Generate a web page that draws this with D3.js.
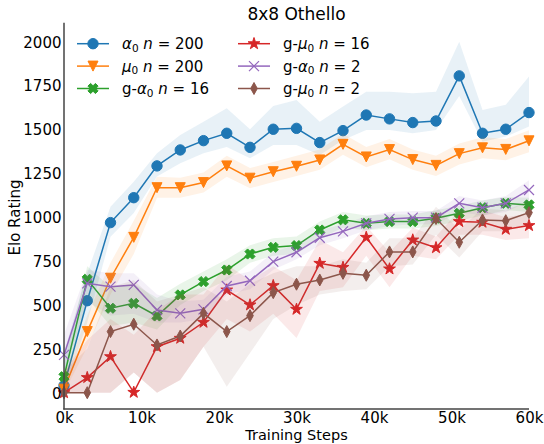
<!DOCTYPE html>
<html><head><meta charset="utf-8">
<script src="https://cdn.jsdelivr.net/npm/d3@7"></script>
<style>body{margin:0;background:#fff} svg{display:block;font-family:"DejaVu Sans",sans-serif}</style>
</head><body><svg id="c" width="544" height="444"></svg>
<script>
const title = "8x8 Othello";
const xLabel = "Training Steps";
const yLabel = "Elo Rating";
const steps = [0,3000,6000,9000,12000,15000,18000,21000,24000,27000,30000,33000,36000,39000,42000,45000,48000,51000,54000,57000,60000];
const xTicks = [0,10000,20000,30000,40000,50000,60000];
const yTicks = [0,250,500,750,1000,1250,1500,1750,2000];

const alpha0Mean = [40,524,969,1111,1292,1383,1436,1478,1398,1501,1506,1425,1493,1582,1560,1539,1548,1805,1478,1501,1596];
const alpha0Lo   = [0,400,889,1024,1231,1307,1364,1400,1336,1411,1411,1354,1440,1497,1497,1478,1497,1690,1430,1459,1516];
const alpha0Hi   = [230,680,1060,1202,1364,1468,1544,1620,1501,1634,1668,1544,1630,1715,1715,1706,1715,2000,1611,1640,1801];

const mu0Mean = [20,348,652,885,1168,1168,1197,1292,1222,1259,1290,1326,1415,1343,1385,1328,1295,1362,1395,1386,1435];
const mu0Lo   = [0,260,560,790,1110,1110,1140,1230,1165,1200,1235,1270,1355,1285,1330,1270,1235,1300,1335,1325,1370];
const mu0Hi   = [90,440,740,980,1230,1225,1255,1350,1280,1315,1350,1385,1475,1400,1445,1385,1350,1420,1455,1445,1495];

const gAlpha16Mean = [91,646,481,509,437,557,633,699,790,828,838,927,985,965,975,975,994,1022,1054,1079,1070];
const gAlpha16Lo   = [20,540,380,400,360,500,580,640,740,780,790,880,940,925,935,935,950,980,1010,1040,1030];
const gAlpha16Hi   = [170,720,600,620,540,620,690,760,840,880,890,975,1030,1010,1015,1015,1040,1065,1095,1115,1110];

const gMu16Mean = [0,86,205,2,262,310,401,585,500,610,475,737,714,885,705,870,826,975,971,931,952];
const gMu16Lo   = [0,0,0,115,0,72,262,420,348,450,311,580,600,780,600,780,760,900,900,870,880];
const gMu16Hi   = [120,300,420,330,470,560,560,730,640,720,640,870,800,950,800,940,890,1040,1040,1000,1020];

const gAlpha2Mean = [215,623,604,614,471,452,475,608,638,747,800,883,919,965,990,997,997,1079,1054,1079,1155];
const gAlpha2Lo   = [120,520,440,450,400,400,420,560,590,700,760,840,880,925,950,960,960,1030,1010,1030,1090];
const gAlpha2Hi   = [330,700,680,680,560,520,530,660,690,800,845,925,960,1005,1030,1035,1035,1120,1095,1120,1210];

const gMu2Mean = [0,0,348,390,272,323,452,348,439,570,618,642,680,669,802,802,992,857,984,980,1026];
const gMu2Lo   = [0,0,0,115,0,72,262,34,226,420,500,560,580,590,720,730,900,770,920,920,960];
const gMu2Hi   = [120,250,600,640,520,560,600,520,620,680,720,720,760,740,880,880,1060,930,1050,1040,1090];

// legend label parts: [prefix, greek, n]
const seriesNames = [["","α","200"],["","μ","200"],["g-","α","16"],["g-","μ","16"],["g-","α","2"],["g-","μ","2"]];

const series = [
  {mean:alpha0Mean, lo:alpha0Lo, hi:alpha0Hi, color:"#1f77b4", marker:"circle"},
  {mean:mu0Mean, lo:mu0Lo, hi:mu0Hi, color:"#ff7f0e", marker:"tridown"},
  {mean:gAlpha16Mean, lo:gAlpha16Lo, hi:gAlpha16Hi, color:"#2ca02c", marker:"filledX"},
  {mean:gMu16Mean, lo:gMu16Lo, hi:gMu16Hi, color:"#d62728", marker:"star"},
  {mean:gAlpha2Mean, lo:gAlpha2Lo, hi:gAlpha2Hi, color:"#9467bd", marker:"x"},
  {mean:gMu2Mean, lo:gMu2Lo, hi:gMu2Hi, color:"#8c564b", marker:"diamond"}
];
series.forEach((s,i)=>s.name=seriesNames[i]);

const svg = d3.select("#c");
const x = d3.scaleLinear().domain([0,60000]).range([64,529]);
const y = d3.scaleLinear().domain([-93,2108]).range([409,22.7]);

function markerPath(type){
  if(type==="tridown") return "M0,5L-5,-5L5,-5Z";
  if(type==="x") return "M-5,-5L5,5M-5,5L5,-5";
  if(type==="diamond") return "M0,-6L3.3,0L0,6L-3.3,0Z";
  if(type==="star"){
    const pts=[]; const R=6.2, r=R*0.382;
    for(let k=0;k<10;k++){const a=-Math.PI/2+k*Math.PI/5; const rr=k%2?r:R; pts.push([rr*Math.cos(a), rr*Math.sin(a)]);}
    return "M"+pts.map(p=>p[0].toFixed(2)+","+p[1].toFixed(2)).join("L")+"Z";
  }
  if(type==="filledX"){
    const L=5.3, W=1.9;
    const plus=[[W,-L],[W,-W],[L,-W],[L,W],[W,W],[W,L],[-W,L],[-W,W],[-L,W],[-L,-W],[-W,-W],[-W,-L]];
    const c=Math.SQRT1_2;
    const rot=plus.map(([a,b])=>[(a-b)*c,(a+b)*c]);
    return "M"+rot.map(p=>p[0].toFixed(2)+","+p[1].toFixed(2)).join("L")+"Z";
  }
  return null;
}
function drawMarker(g, type, color, cx, cy){
  if(type==="circle"){
    g.append("circle").attr("cx",cx).attr("cy",cy).attr("r",5.2).attr("fill",color).attr("stroke",color).attr("stroke-width",1);
  } else if(type==="x"){
    g.append("path").attr("d",markerPath(type)).attr("transform",`translate(${cx},${cy})`).attr("fill","none").attr("stroke",color).attr("stroke-width",1.2);
  } else {
    g.append("path").attr("d",markerPath(type)).attr("transform",`translate(${cx},${cy})`).attr("fill",color).attr("stroke",color).attr("stroke-width",1);
  }
}

// bands and lines
const area = d3.area().x((d,i)=>x(steps[i])).y0(d=>y(d[0])).y1(d=>y(d[1]));
const line = d3.line().x((d,i)=>x(steps[i])).y(d=>y(d));
const plot = svg.append("g");
series.forEach(s=>{
  const g = plot.append("g");
  g.append("path").datum(s.lo.map((v,i)=>[v,s.hi[i]])).attr("d",area).attr("fill",s.color).attr("fill-opacity",0.1).attr("stroke","none");
  g.append("path").datum(s.mean).attr("d",line).attr("fill","none").attr("stroke",s.color).attr("stroke-width",1.5);
  s.mean.forEach((v,i)=>drawMarker(g,s.marker,s.color,x(steps[i]),y(v)));
});

// axes (spines only, no tick marks)
const axG = svg.append("g");
axG.append("line").attr("x1",64).attr("x2",64).attr("y1",22.7).attr("y2",409.5).attr("stroke","#444").attr("stroke-width",1.5);
axG.append("line").attr("x1",63.3).attr("x2",529).attr("y1",409).attr("y2",409).attr("stroke","#444").attr("stroke-width",1.5);
const xAxis = d3.axisBottom(x).tickValues(xTicks).tickSize(0).tickPadding(0).tickFormat(d=>(d/1000)+"k");
const xg = svg.append("g").attr("transform","translate(0,409)").call(xAxis);
xg.select(".domain").remove();
xg.selectAll("text").attr("font-size",15).attr("font-family","DejaVu Sans").attr("fill","#000").attr("dy",null).attr("y",14);
const yAxis = d3.axisLeft(y).tickValues(yTicks).tickSize(0).tickPadding(2.5).tickFormat(d3.format("d"));
const yg = svg.append("g").attr("transform","translate(64,0)").call(yAxis);
yg.select(".domain").remove();
yg.selectAll("text").attr("font-size",15).attr("font-family","DejaVu Sans").attr("fill","#000").attr("dy","0.36em");

// labels
svg.append("text").attr("x",296.5).attr("y",20).attr("text-anchor","middle").attr("font-size",17).text(title);
svg.append("text").attr("x",296.5).attr("y",440).attr("text-anchor","middle").attr("font-size",14.5).text(xLabel);
svg.append("text").attr("transform","translate(19.5,217.5) rotate(-90)").attr("text-anchor","middle").attr("font-size",15).text(yLabel);

// legend
const leg = svg.append("g");
series.forEach((s,i)=>{
  const col = Math.floor(i/3), row = i%3;
  const lx = col===0?77:238, ly = 43.7 + row*22.4;
  leg.append("line").attr("x1",lx).attr("x2",lx+32).attr("y1",ly).attr("y2",ly).attr("stroke",s.color).attr("stroke-width",1.5);
  drawMarker(leg,s.marker,s.color,lx+16,ly);
  const t = leg.append("text").attr("x",lx+45).attr("y",ly+5.6).attr("font-size",15);
  const [pre,gr,n] = s.name;
  if(pre) t.append("tspan").text(pre);
  t.append("tspan").attr("font-style","italic").text(gr);
  t.append("tspan").attr("font-size",10.5).attr("dy",2.4).text("0");
  t.append("tspan").attr("dy",-2.4).text(" ");
  t.append("tspan").attr("font-style","italic").text("n");
  t.append("tspan").text(" = "+n);
});
</script>
</body></html>
